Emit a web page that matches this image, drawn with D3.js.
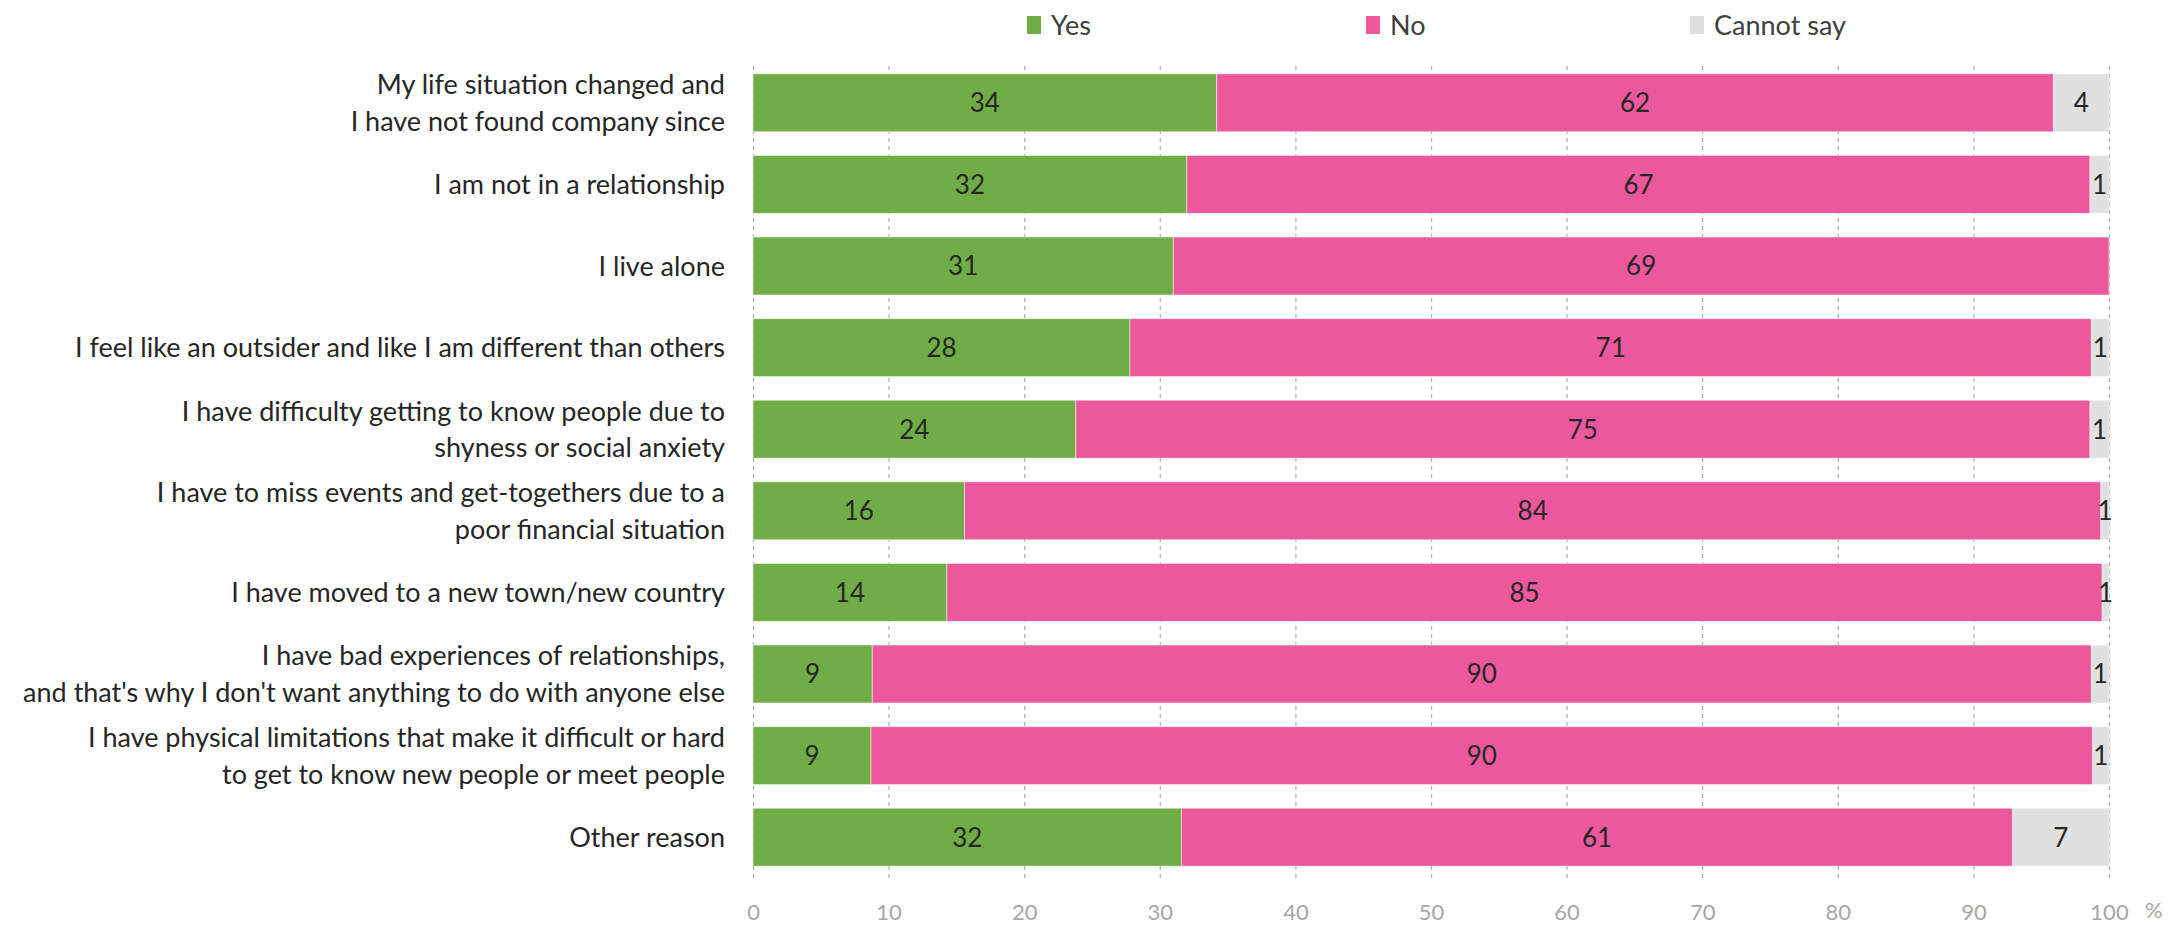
<!DOCTYPE html>
<html>
<head>
<meta charset="utf-8">
<script src="https://cdnjs.cloudflare.com/ajax/libs/d3/7.8.5/d3.min.js"></script>
<style>
    body { margin: 0; background: #fff; }
    text { font-family: Lato, "Open Sans", sans-serif; }
</style>
</head>
<body>
<div id="chart"></div>
<script>
// data (segment widths, labels are rounded)
const categories = [
    "My life situation changed and\nI have not found company since",
    "I am not in a relationship",
    "I live alone",
    "I feel like an outsider and like I am different than others",
    "I have difficulty getting to know people due to\nshyness or social anxiety",
    "I have to miss events and get-togethers due to a\npoor financial situation",
    "I have moved to a new town/new country",
    "I have bad experiences of relationships,\nand that's why I don't want anything to do with anyone else",
    "I have physical limitations that make it difficult or hard\nto get to know new people or meet people",
    "Other reason"
];
const yesValues       = [34.2, 32.0, 31.0, 27.8, 23.8, 15.6, 14.3, 8.8, 8.7, 31.6];
const noValues        = [61.7, 66.6, 69.0, 70.9, 74.8, 83.8, 85.2, 89.9, 90.1, 61.3];
const cannotSayValues = [4.1, 1.4, 0, 1.3, 1.4, 0.6, 0.5, 1.3, 1.2, 7.1];
const seriesNames  = ["Yes", "No", "Cannot say"];
const seriesColors = ["#70ad47", "#ec589c", "#e0e0e0"];
const xTicks = [0, 10, 20, 30, 40, 50, 60, 70, 80, 90, 100];

const width  = 2177;
const height = 930;
const plot = {left: 753, right: 2109, top: 62, bottom: 878};

const svg = d3.select("#chart")
    .append("svg")
    .attr("width", width)
    .attr("height", height);

const x = d3.scaleLinear()
    .domain([0, 100])
    .range([plot.left, plot.right]);

const y = d3.scaleBand()
    .domain(d3.range(categories.length))
    .range([plot.top, plot.bottom])
    .paddingInner(0.29)
    .paddingOuter(0.145);

//////////////
/// Grid   ///
//////////////

const grid = svg.append("g")
    .attr("transform", "translate(0," + plot.bottom + ")")
    .call(d3.axisBottom(x).tickValues(xTicks).tickSize(-(plot.bottom - plot.top)).tickFormat(""));
grid.select(".domain").remove();
grid.selectAll("line")
    .attr("stroke", "#b4b4b4")
    .attr("stroke-width", 1.3)
    .attr("stroke-dasharray", "4,4");

//////////////
/// Bars   ///
//////////////

const rows = categories.map((c, i) => ({
    "Yes": yesValues[i],
    "No": noValues[i],
    "Cannot say": cannotSayValues[i],
    idx: i
}));

const stacked = d3.stack().keys(seriesNames)(rows);

const layers = svg.selectAll(".layer")
    .data(stacked)
    .enter()
    .append("g")
    .attr("class", "layer")
    .attr("fill", (d, i) => seriesColors[i]);

layers.selectAll("rect")
    .data(d => d)
    .enter()
    .append("rect")
    .attr("x", d => x(d[0]))
    .attr("y", d => y(d.data.idx))
    .attr("width", d => x(d[1]) - x(d[0]))
    .attr("height", y.bandwidth())
    .attr("stroke", "#ffffff")
    .attr("stroke-opacity", 0.5)
    .attr("stroke-width", 1);

layers.selectAll("text")
    .data(d => d.filter(p => p[1] - p[0] > 0))
    .enter()
    .append("text")
    .attr("x", d => (x(d[0]) + x(d[1])) / 2)
    .attr("y", d => y(d.data.idx) + y.bandwidth() / 2)
    .attr("dy", "0.36em")
    .attr("text-anchor", "middle")
    .attr("fill", "#262626")
    .style("font-size", "26px")
    .text(d => Math.round(d[1] - d[0]));

//////////////
/// Labels ///
//////////////

const catLabels = svg.append("g")
    .selectAll("text")
    .data(categories)
    .enter()
    .append("text")
    .attr("text-anchor", "end")
    .attr("fill", "#262626")
    .style("font-size", "27px")
    .attr("transform", (d, i) => "translate(725," + (y(i) + y.bandwidth() / 2) + ")");

catLabels.each(function (d) {
    const lines = d.split("\n");
    const lh = 36.5;
    const t = d3.select(this);
    lines.forEach((line, k) => {
        t.append("tspan")
            .attr("x", 0)
            .attr("y", (k - (lines.length - 1) / 2) * lh)
            .attr("dy", "0.36em")
            .text(line);
    });
});

//////////////
/// Axis   ///
//////////////

const axis = svg.append("g")
    .attr("transform", "translate(0," + plot.bottom + ")")
    .call(d3.axisBottom(x).tickValues(xTicks).tickSize(0));
axis.select(".domain").remove();
axis.selectAll("text")
    .attr("y", 34)
    .attr("dy", "0.36em")
    .attr("fill", "#a6a6a6")
    .style("font-family", "Lato, sans-serif")
    .style("font-size", "22px");

svg.append("text")
    .attr("x", 2145)
    .attr("y", 910)
    .attr("dy", "0.36em")
    .attr("fill", "#a6a6a6")
    .style("font-size", "22px")
    .text("%");

//////////////
/// Legend ///
//////////////

const legendX = [1027, 1366, 1690];
const legend = svg.append("g")
    .selectAll("g")
    .data(seriesNames)
    .enter()
    .append("g")
    .attr("transform", (d, i) => "translate(" + legendX[i] + ",25)");

legend.append("rect")
    .attr("x", 0)
    .attr("y", -9)
    .attr("width", 14)
    .attr("height", 18)
    .attr("fill", (d, i) => seriesColors[i]);

legend.append("text")
    .attr("x", 24)
    .attr("dy", "0.36em")
    .attr("fill", "#404040")
    .style("font-size", "27px")
    .text(d => d);
</script>
</body>
</html>
